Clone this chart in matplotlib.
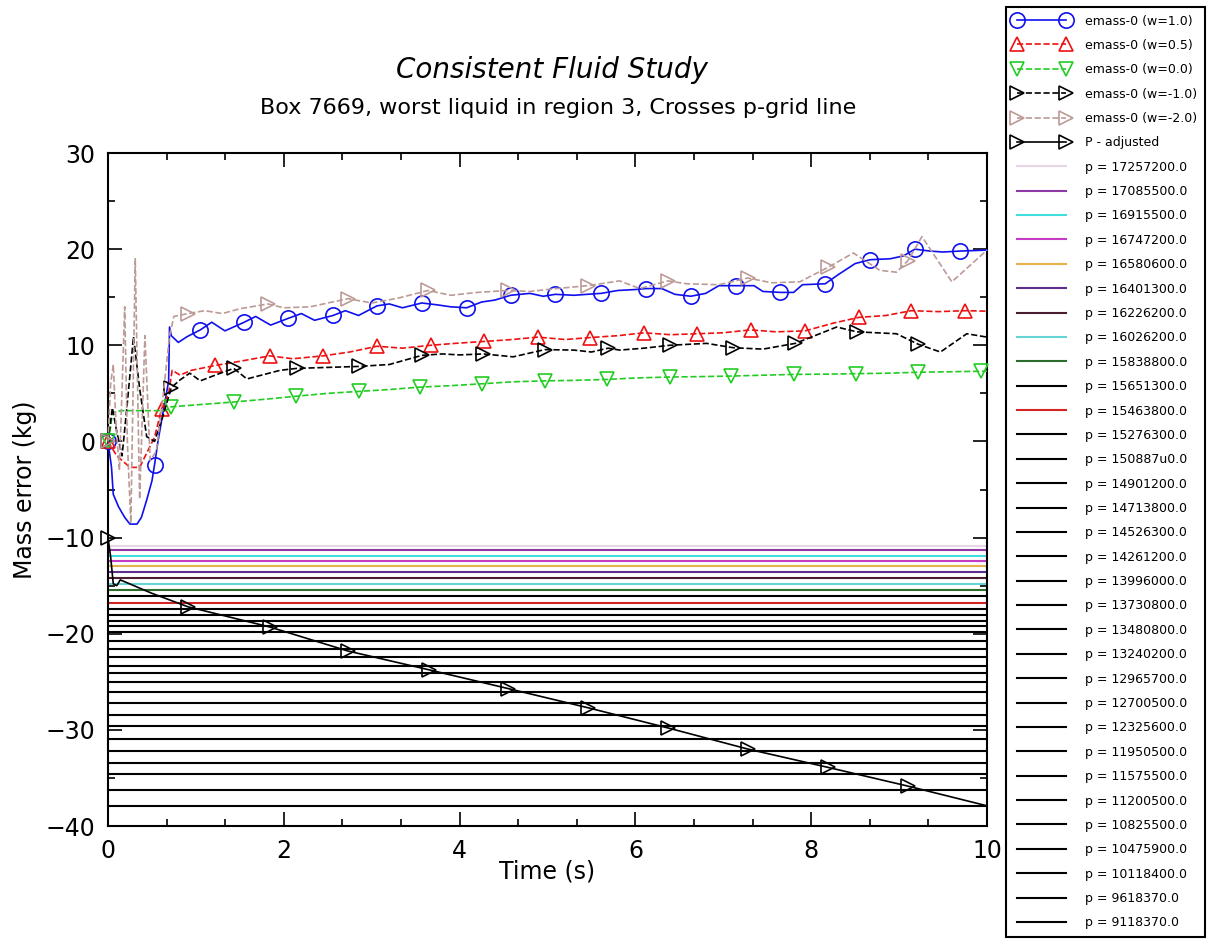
import matplotlib
matplotlib.use('Agg')
import matplotlib.pyplot as plt
from matplotlib.ticker import MultipleLocator, AutoMinorLocator
import numpy as np

# --- emass-0 (w=1.0) ---
t_w10 = [0.0, 0.04, 0.06, 0.12, 0.19, 0.25, 0.33, 0.38, 0.44, 0.50, 0.53, 0.57, 0.63, 0.69, 0.70,
         0.72, 0.80, 0.90, 1.05, 1.18, 1.33, 1.55, 1.68, 1.85, 2.05, 2.20, 2.35, 2.56, 2.70, 2.85,
         3.06, 3.20, 3.35, 3.57, 3.75, 3.90, 4.08, 4.25, 4.40, 4.58, 4.80, 4.95, 5.09, 5.30, 5.45,
         5.61, 5.80, 6.00, 6.12, 6.30, 6.45, 6.63, 6.80, 6.95, 7.14, 7.35, 7.45, 7.65, 7.80, 7.90,
         8.16, 8.30, 8.50, 8.67, 8.90, 9.05, 9.18, 9.35, 9.50, 9.69, 10.0]
y_w10 = [0.0, -2.7, -5.5, -6.8, -7.9, -8.6, -8.6, -7.9, -6.1, -4.1, -2.4, 0.1, 3.2, 6.3, 11.9,
         11.0, 10.3, 10.9, 11.6, 12.4, 11.5, 12.4, 13.0, 12.1, 12.8, 13.3, 12.6, 13.1, 13.6, 13.1,
         14.1, 14.3, 13.9, 14.4, 14.2, 14.0, 13.9, 14.5, 14.7, 15.2, 15.4, 15.1, 15.3, 15.2, 15.3,
         15.4, 15.7, 15.8, 15.9, 15.9, 15.3, 15.1, 15.4, 16.2, 16.2, 16.2, 15.6, 15.5, 15.5, 16.3,
         16.4, 17.3, 18.5, 18.9, 19.0, 19.3, 20.0, 19.8, 19.7, 19.8, 19.9]
mk_w10 = [0.0, 0.53, 1.05, 1.55, 2.05, 2.56, 3.06, 3.57, 4.08, 4.58, 5.09, 5.61, 6.12, 6.63,
          7.14, 7.65, 8.16, 8.67, 9.18, 9.69]

# --- emass-0 (w=0.5) ---
t_w05 = [0.0, 0.10, 0.25, 0.36, 0.53, 0.61, 0.69, 0.73, 0.82, 0.95, 1.22, 1.35, 1.54, 1.84,
         2.10, 2.45, 2.75, 3.06, 3.35, 3.67, 3.95, 4.28, 4.60, 4.89, 5.20, 5.48, 5.80, 6.10,
         6.40, 6.70, 7.00, 7.31, 7.60, 7.93, 8.25, 8.54, 8.85, 9.14, 9.45, 9.75, 10.0]
y_w05 = [0.0, -1.5, -2.7, -2.7, 0.45, 3.4, 5.0, 7.4, 6.9, 7.4, 7.9, 8.1, 8.4, 8.9,
         8.6, 8.9, 9.3, 9.9, 9.7, 10.0, 10.2, 10.4, 10.6, 10.85, 10.6, 10.8, 11.0, 11.3,
         11.1, 11.2, 11.3, 11.6, 11.4, 11.5, 12.3, 12.9, 13.1, 13.6, 13.5, 13.6, 13.55]
mk_w05 = [0.0, 0.61, 1.22, 1.84, 2.45, 3.06, 3.67, 4.28, 4.89, 5.48, 6.10, 6.70, 7.31, 7.93,
          8.54, 9.14, 9.75]

# --- emass-0 (w=0.0) ---
t_w00 = [0.0, 0.03, 0.05, 0.15, 0.65, 0.72, 1.0, 1.43, 1.8, 2.14, 2.5, 2.85, 3.2, 3.55, 3.9,
         4.26, 4.6, 4.97, 5.3, 5.68, 6.0, 6.39, 6.8, 7.09, 7.5, 7.8, 8.2, 8.51, 8.9, 9.22, 9.6,
         9.93, 10.0]
y_w00 = [0.0, 1.5, 3.0, 3.2, 3.2, 3.6, 3.8, 4.1, 4.4, 4.7, 5.0, 5.2, 5.4, 5.65, 5.8,
         6.0, 6.2, 6.3, 6.35, 6.45, 6.6, 6.7, 6.75, 6.8, 6.9, 6.97, 7.0, 7.05, 7.1, 7.2, 7.25,
         7.3, 7.3]
mk_w00 = [0.0, 0.72, 1.43, 2.14, 2.85, 3.55, 4.26, 4.97, 5.68, 6.39, 7.09, 7.8, 8.51, 9.22, 9.93]

# --- emass-0 (w=-1.0) ---
t_wm1 = [0.0, 0.05, 0.10, 0.16, 0.22, 0.29, 0.36, 0.44, 0.53, 0.62, 0.72, 0.82, 0.93, 1.05,
         1.25, 1.43, 1.58, 1.96, 2.15, 2.50, 2.85, 3.20, 3.57, 3.80, 4.00, 4.27, 4.61, 4.97,
         5.30, 5.50, 5.69, 5.82, 6.10, 6.39, 6.81, 7.11, 7.45, 7.82, 8.29, 8.52, 8.97, 9.22,
         9.47, 9.77, 10.0]
y_wm1 = [0.0, 3.5, 1.0, -1.5, 4.0, 10.9, 5.5, 0.5, 0.0, 2.5, 5.6, 6.4, 7.1, 6.3,
         7.0, 7.6, 6.5, 7.4, 7.6, 7.7, 7.8, 8.0, 8.95, 9.1, 9.0, 9.1, 8.8, 9.55,
         9.5, 9.3, 9.7, 9.5, 9.7, 10.0, 10.2, 9.75, 9.6, 10.2, 11.9, 11.4, 11.2, 10.1,
         9.3, 11.2, 10.85]
mk_wm1 = [0.0, 0.72, 1.43, 2.15, 2.85, 3.57, 4.27, 4.97, 5.69, 6.39, 7.11, 7.82, 8.52, 9.22, 9.92]

# --- emass-0 (w=-2.0) ---
t_wm2 = [0.0, 0.03, 0.06, 0.09, 0.13, 0.19, 0.22, 0.26, 0.31, 0.36, 0.42, 0.48, 0.55, 0.63,
         0.70, 0.75, 0.91, 1.10, 1.30, 1.50, 1.82, 2.00, 2.30, 2.50, 2.73, 3.00, 3.30, 3.64,
         3.90, 4.20, 4.55, 4.80, 5.10, 5.46, 5.82, 6.05, 6.37, 6.58, 6.95, 7.28, 7.55, 7.87,
         8.19, 8.48, 8.78, 8.97, 9.10, 9.26, 9.60, 10.0]
y_wm2 = [0.0, 6.0, 8.0, 2.0, -3.0, 14.0, 0.0, -8.5, 19.0, -6.0, 11.0, -2.0, -1.0, 5.0,
         11.0, 13.0, 13.3, 13.6, 13.3, 13.8, 14.3, 13.9, 14.0, 14.4, 14.85, 14.4, 14.9, 15.7,
         15.2, 15.5, 15.7, 15.6, 15.9, 16.2, 16.7, 15.9, 16.7, 16.4, 16.3, 17.0, 16.5, 16.6,
         18.1, 19.6, 17.8, 17.6, 18.8, 21.3, 16.6, 19.9]
mk_wm2 = [0.0, 0.91, 1.82, 2.73, 3.64, 4.55, 5.46, 6.37, 7.28, 8.19, 9.10]

# --- P - adjusted ---
t_padj = [0.0, 0.03, 0.06, 0.10, 0.14, 0.50, 0.91, 1.84, 2.73, 3.65, 4.55, 5.46, 6.37, 7.28,
          8.19, 9.10, 10.0]
y_padj = [-10.0, -12.0, -14.8, -15.0, -14.4, -15.8, -17.2, -19.3, -21.8, -23.75, -25.7, -27.7,
          -29.8, -32.0, -33.9, -35.85, -37.9]
mk_padj = [0.0, 0.91, 1.84, 2.73, 3.65, 4.55, 5.46, 6.37, 7.28, 8.19, 9.10]

# pressure grid lines
p_labels = ['17257200.0', '17085500.0', '16915500.0', '16747200.0', '16580600.0', '16401300.0',
            '16226200.0', '16026200.0', '15838800.0', '15651300.0', '15463800.0', '15276300.0',
            '150887u0.0', '14901200.0', '14713800.0', '14526300.0', '14261200.0', '13996000.0',
            '13730800.0', '13480800.0', '13240200.0', '12965700.0', '12700500.0', '12325600.0',
            '11950500.0', '11575500.0', '11200500.0', '10825500.0', '10475900.0', '10118400.0',
            '9618370.0', '9118370.0']
p_levels = [-10.89, -11.34, -11.93, -12.48, -12.97, -13.59, -14.22, -14.87, -15.43, -16.09,
            -16.78, -17.40, -18.03, -18.69, -19.24, -19.84, -20.80, -21.64, -22.44, -23.33,
            -24.10, -25.06, -26.10, -27.21, -28.50, -29.64, -31.00, -32.22, -33.44, -34.54,
            -36.21, -37.97]
p_colors = ['#e6d6e6', '#8e3aa6', '#40dede', '#c43cc4', '#e3b24a', '#5c2e8e', '#4a1e30',
            '#66d4d4', '#2c6e2c', 'black', '#d42424'] + ['black'] * 21


def mark_mask(t, marks):
    t = np.asarray(t)
    return [bool(np.any(np.isclose(v, marks, atol=1e-6))) for v in t]


fig = plt.figure(figsize=(12.11, 9.46), dpi=100)
ax = fig.add_axes([108 / 1211, 1 - 826 / 946, (987 - 108) / 1211, (826 - 153) / 946])

handles = []
series = [
    (t_w10, y_w10, mk_w10, '#1010ee', '-', 'o', 11, 'emass-0 (w=1.0)'),
    (t_w05, y_w05, mk_w05, '#ee1111', '--', '^', 10, 'emass-0 (w=0.5)'),
    (t_w00, y_w00, mk_w00, '#22cc22', '--', 'v', 10, 'emass-0 (w=0.0)'),
    (t_wm1, y_wm1, mk_wm1, 'black', '--', '>', 10, 'emass-0 (w=-1.0)'),
    (t_wm2, y_wm2, mk_wm2, '#bc9a96', '--', '>', 10, 'emass-0 (w=-2.0)'),
    (t_padj, y_padj, mk_padj, 'black', '-', '>', 10, 'P - adjusted'),
]
for t, y, mk, c, ls, m, ms, lab in series:
    ln, = ax.plot(t, y, color=c, linestyle=ls, linewidth=1.2, marker=m, markersize=ms,
                  markerfacecolor='none', markeredgecolor=c, markeredgewidth=1.2,
                  markevery=mark_mask(t, mk), label=lab, clip_on=False, zorder=3)
    handles.append(ln)

for lev, lab, c in zip(p_levels, p_labels, p_colors):
    hl = ax.axhline(lev, color=c, linewidth=1.5, label='p = ' + lab, zorder=2)
    handles.append(hl)

ax.set_xlim(0, 10)
ax.set_ylim(-40, 30)
ax.xaxis.set_major_locator(MultipleLocator(2))
ax.xaxis.set_minor_locator(AutoMinorLocator(3))
ax.yaxis.set_major_locator(MultipleLocator(10))
ax.yaxis.set_minor_locator(AutoMinorLocator(2))
ax.tick_params(which='both', direction='in', top=True, right=True, labelsize=17, width=1.2)
ax.tick_params(which='major', length=10, pad=9)
ax.tick_params(which='minor', length=5)
for sp in ax.spines.values():
    sp.set_linewidth(1.5)

ax.set_xlabel('Time (s)', fontsize=17, labelpad=-2)
ax.set_ylabel('Mass error (kg)', fontsize=17, labelpad=6)

fig.text(552 / 1211, 1 - 70 / 946, 'Consistent Fluid Study', ha='center', va='center',
         fontsize=20, style='italic')
fig.text(558 / 1211, 1 - 108 / 946, 'Box 7669, worst liquid in region 3, Crosses p-grid line',
         ha='center', va='center', fontsize=16)

leg = fig.legend(handles=handles, loc='upper left', bbox_to_anchor=(1006 / 1211, 1 - 7 / 946),
                 bbox_transform=fig.transFigure, borderaxespad=0, fontsize=9, numpoints=2,
                 handlelength=4.5, handletextpad=1.25, labelspacing=0.91, borderpad=0.6,
                 fancybox=False, framealpha=1, edgecolor='black')
leg.get_frame().set_linewidth(1.5)

fig.savefig('out.png', dpi=100)
